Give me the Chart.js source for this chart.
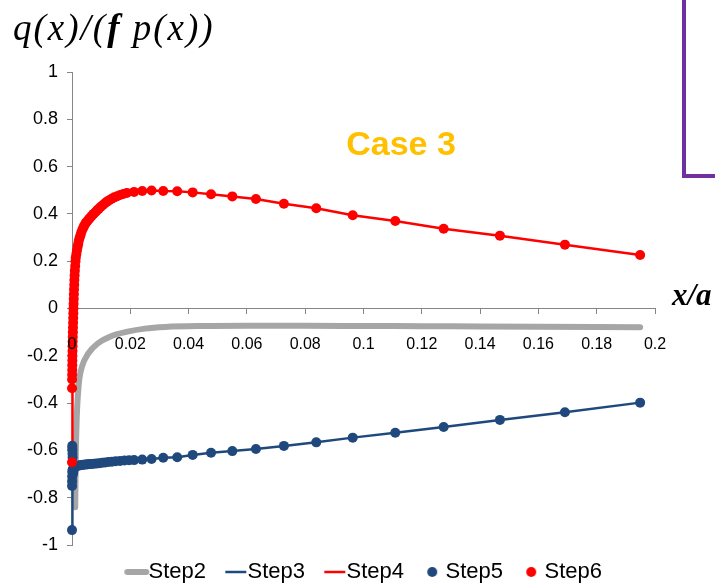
<!DOCTYPE html>
<html>
<head>
<meta charset="utf-8">
<script src="https://cdn.jsdelivr.net/npm/chart.js@4.4.1/dist/chart.umd.min.js"></script>
<style>
  html, body { margin: 0; padding: 0; background: #fff; }
  #wrap { position: relative; width: 715px; height: 587px; }
</style>
</head>
<body>
<div id="wrap"><canvas id="caseChart" width="715" height="587"></canvas></div>
<script>
// red curve (Step4 line, Step6 markers)
const redX = [0, 0.00002, 0.00004, 0.00006, 0.00008, 0.0001, 0.00012, 0.00014, 0.00017, 0.0002,
  0.00023, 0.00026, 0.0003, 0.00034, 0.00038, 0.00042, 0.00046, 0.0005, 0.00055, 0.0006,
  0.00065, 0.0007, 0.00076, 0.00082, 0.0009, 0.00098, 0.0011, 0.0012, 0.0013, 0.0015,
  0.0017, 0.0019, 0.0021, 0.0023, 0.0026, 0.0029, 0.0032, 0.0036, 0.004, 0.0044,
  0.0048, 0.0053, 0.0058, 0.0063, 0.0068, 0.0074, 0.008, 0.0086, 0.0092, 0.0099,
  0.0106, 0.0113, 0.012, 0.0128, 0.0136, 0.0145, 0.0155, 0.0165, 0.0176, 0.0188,
  0.0213, 0.0241, 0.0273, 0.0313, 0.0361, 0.0414, 0.0477, 0.0550, 0.0631, 0.0727,
  0.0838, 0.0963, 0.1109, 0.1275, 0.1468, 0.1691, 0.1949];
const redY = [-0.65, -0.337, -0.30, -0.28, -0.26, -0.24, -0.22, -0.20, -0.18, -0.16,
  -0.14, -0.12, -0.10, -0.08, -0.06, -0.04, -0.02, 0.0, 0.02, 0.04,
  0.06, 0.08, 0.10, 0.12, 0.14, 0.16, 0.18, 0.20, 0.215, 0.23,
  0.245, 0.26, 0.272, 0.285, 0.298, 0.31, 0.322, 0.335, 0.345, 0.355,
  0.363, 0.37, 0.378, 0.385, 0.392, 0.40, 0.407, 0.415, 0.422, 0.43,
  0.438, 0.445, 0.452, 0.458, 0.464, 0.47, 0.475, 0.48, 0.484, 0.488,
  0.493, 0.497, 0.499, 0.497, 0.496, 0.491, 0.483, 0.474, 0.463, 0.443,
  0.424, 0.394, 0.370, 0.337, 0.308, 0.270, 0.226];

// blue curve (Step3 line, Step5 markers)
const blueX = [0, 0.00002, 0.00004, 0.00006, 0.00008, 0.0001, 0.00012, 0.00014, 0.00017, 0.0002,
  0.00025, 0.0003, 0.0004, 0.0005, 0.0006, 0.0008, 0.001, 0.0013, 0.0016, 0.002,
  0.0024, 0.0029, 0.0034, 0.004, 0.0046, 0.0053, 0.006, 0.0068, 0.0076, 0.0085,
  0.0094, 0.0104, 0.0114, 0.0125, 0.0137, 0.015, 0.0165, 0.018, 0.0196, 0.0213,
  0.0241, 0.0273, 0.0313, 0.0361, 0.0414, 0.0477, 0.0550, 0.0631, 0.0727, 0.0838,
  0.0963, 0.1109, 0.1275, 0.1468, 0.1691, 0.1949];
const blueY = [-0.937, -0.75, -0.73, -0.71, -0.69, -0.58, -0.59, -0.60, -0.615, -0.63,
  -0.68, -0.70, -0.695, -0.685, -0.678, -0.672, -0.669, -0.667, -0.666, -0.665,
  -0.664, -0.663, -0.662, -0.661, -0.660, -0.659, -0.658, -0.657, -0.656, -0.655,
  -0.654, -0.652, -0.651, -0.649, -0.648, -0.646, -0.645, -0.643, -0.642, -0.641,
  -0.639, -0.636, -0.631, -0.629, -0.619, -0.610, -0.603, -0.594, -0.581, -0.566,
  -0.546, -0.525, -0.501, -0.471, -0.439, -0.398];

// grey curve (Step2)
const grayX = [0.0011, 0.0013, 0.0016, 0.002, 0.0025, 0.0034, 0.0056, 0.0088, 0.013, 0.019,
  0.025, 0.032, 0.045, 0.06, 0.08, 0.1, 0.12, 0.14, 0.16, 0.18, 0.1949];
const grayY = [-0.84, -0.62, -0.47, -0.37, -0.30, -0.246, -0.19, -0.148, -0.119, -0.098,
  -0.085, -0.078, -0.074, -0.073, -0.073, -0.074, -0.075, -0.076, -0.077, -0.078, -0.079];

const seriesNames = ["Step2", "Step3", "Step4", "Step5", "Step6"];
const yTicks = { min: -1, max: 1, step: 0.2 };
const xTicks = { min: 0, max: 0.2, step: 0.02 };

const GRAY = "#A6A6A6";
const BLUE = "#1F497D";
const RED = "#FF0000";
const AXIS = "#868686";
const SANS = "'Liberation Sans', Arial, sans-serif";
const SERIF = "'Liberation Serif', 'Times New Roman', serif";

function pairs(xs, ys) {
    return xs.map((x, i) => ({ x: x, y: ys[i] }));
}

function tickText(value) {
    return String(Math.round(value * 100) / 100);
}

// little legend symbols, drawn as canvases (label text starts near x = 38 of each)
function legendSymbol(kind, color) {
    const c = document.createElement("canvas");
    c.width = 40;
    c.height = 16;
    const g = c.getContext("2d");
    if (kind === "line") {
        const thick = color === GRAY;
        g.strokeStyle = color;
        g.lineWidth = thick ? 6 : 2.5;
        g.lineCap = thick ? "round" : "butt";
        g.beginPath();
        g.moveTo(thick ? 17 : 16, 8);
        g.lineTo(thick ? 36 : 37, 8);
        g.stroke();
    } else {
        g.fillStyle = color;
        g.beginPath();
        g.arc(25, 8, 5, 0, Math.PI * 2);
        g.fill();
    }
    return c;
}

const legendSymbols = [
    legendSymbol("line", GRAY),
    legendSymbol("line", BLUE),
    legendSymbol("line", RED),
    legendSymbol("dot", BLUE),
    legendSymbol("dot", RED)
];

// free text and the purple frame
const decorations = {
    id: "decorations",
    afterDraw(chart) {
        const ctx = chart.ctx;
        ctx.save();
        ctx.fillStyle = "#000";
        ctx.textBaseline = "alphabetic";
        ctx.letterSpacing = "2px";
        let x = 13;
        const y = 40;
        ctx.font = "italic 37px " + SERIF;
        ctx.fillText("q(x)/(", x, y);
        x += ctx.measureText("q(x)/(").width;
        ctx.font = "bold italic 37px " + SERIF;
        ctx.fillText("f", x, y);
        x += ctx.measureText("f").width;
        ctx.font = "italic 37px " + SERIF;
        ctx.fillText(" p(x))", x, y);
        ctx.letterSpacing = "0px";

        ctx.font = "bold italic 31px " + SERIF;
        ctx.fillText("x/a", 672, 305);

        ctx.fillStyle = "#FFC000";
        ctx.font = "bold 34px " + SANS;
        ctx.textAlign = "center";
        ctx.fillText("Case 3", 401, 155);

        ctx.strokeStyle = "#7030A0";
        ctx.lineWidth = 4;
        ctx.beginPath();
        ctx.moveTo(684, 0);
        ctx.lineTo(684, 176);
        ctx.lineTo(715, 176);
        ctx.stroke();
        ctx.restore();
    }
};

document.addEventListener("DOMContentLoaded", function () {
    const ctx = document.getElementById("caseChart").getContext("2d");

    new Chart(ctx, {
        type: "scatter",
        data: {
            datasets: [
                {
                    label: seriesNames[0], data: pairs(grayX, grayY), showLine: true,
                    borderColor: GRAY, borderWidth: 6, borderCapStyle: "round",
                    pointRadius: 0, cubicInterpolationMode: "monotone", order: 5, clip: false
                },
                {
                    label: seriesNames[1], data: pairs(blueX, blueY), showLine: true,
                    borderColor: BLUE, borderWidth: 2.5, pointRadius: 0, order: 4, clip: false
                },
                {
                    label: seriesNames[2], data: pairs(redX, redY), showLine: true,
                    borderColor: RED, borderWidth: 2.5, pointRadius: 0, order: 3, clip: false
                },
                {
                    label: seriesNames[3], data: pairs(blueX, blueY), showLine: false,
                    backgroundColor: BLUE, borderWidth: 0, pointRadius: 5, order: 2, clip: false
                },
                {
                    label: seriesNames[4], data: pairs(redX, redY), showLine: false,
                    backgroundColor: RED, borderWidth: 0, pointRadius: 5, order: 1, clip: false
                }
            ]
        },
        options: {
            responsive: false,
            animation: false,
            devicePixelRatio: 1,
            layout: { padding: { top: 72, right: 0, bottom: 0, left: 10 } },
            plugins: {
                tooltip: { enabled: false },
                legend: {
                    position: "bottom",
                    maxHeight: 42,
                    labels: {
                        usePointStyle: true,
                        pointStyleWidth: 14.5,
                        padding: 16,
                        color: "#000",
                        font: { family: SANS, size: 22 },
                        generateLabels: function () {
                            return seriesNames.map((name, i) => ({
                                text: name,
                                pointStyle: legendSymbols[i],
                                fillStyle: "transparent",
                                strokeStyle: "transparent",
                                lineWidth: 0,
                                datasetIndex: i,
                                hidden: false
                            }));
                        }
                    }
                }
            },
            scales: {
                x: {
                    type: "linear",
                    position: { y: 0 },
                    min: xTicks.min,
                    max: xTicks.max,
                    border: { color: AXIS, width: 1 },
                    grid: { display: true, drawOnChartArea: false, drawTicks: true, tickLength: 5, color: AXIS },
                    ticks: {
                        z: 1,
                        stepSize: xTicks.step, autoSkip: false, maxRotation: 0,
                        padding: 21, color: "#000",
                        font: { family: SANS, size: 16 },
                        callback: tickText
                    }
                },
                y: {
                    type: "linear",
                    position: "left",
                    min: yTicks.min,
                    max: yTicks.max,
                    afterFit: function (scale) { scale.width = 62; },
                    border: { color: AXIS, width: 1 },
                    grid: { display: true, drawOnChartArea: false, drawTicks: true, tickLength: 5, color: AXIS },
                    ticks: {
                        stepSize: yTicks.step, padding: 9, color: "#000",
                        font: { family: SANS, size: 18 },
                        callback: tickText
                    }
                },
                // empty strip on the right where the "x/a" label sits
                rightGap: {
                    type: "linear",
                    position: "right",
                    afterFit: function (scale) { scale.width = 60; },
                    border: { display: false },
                    grid: { display: false },
                    ticks: { display: false }
                }
            }
        },
        plugins: [decorations]
    });
});
</script>
</body>
</html>
